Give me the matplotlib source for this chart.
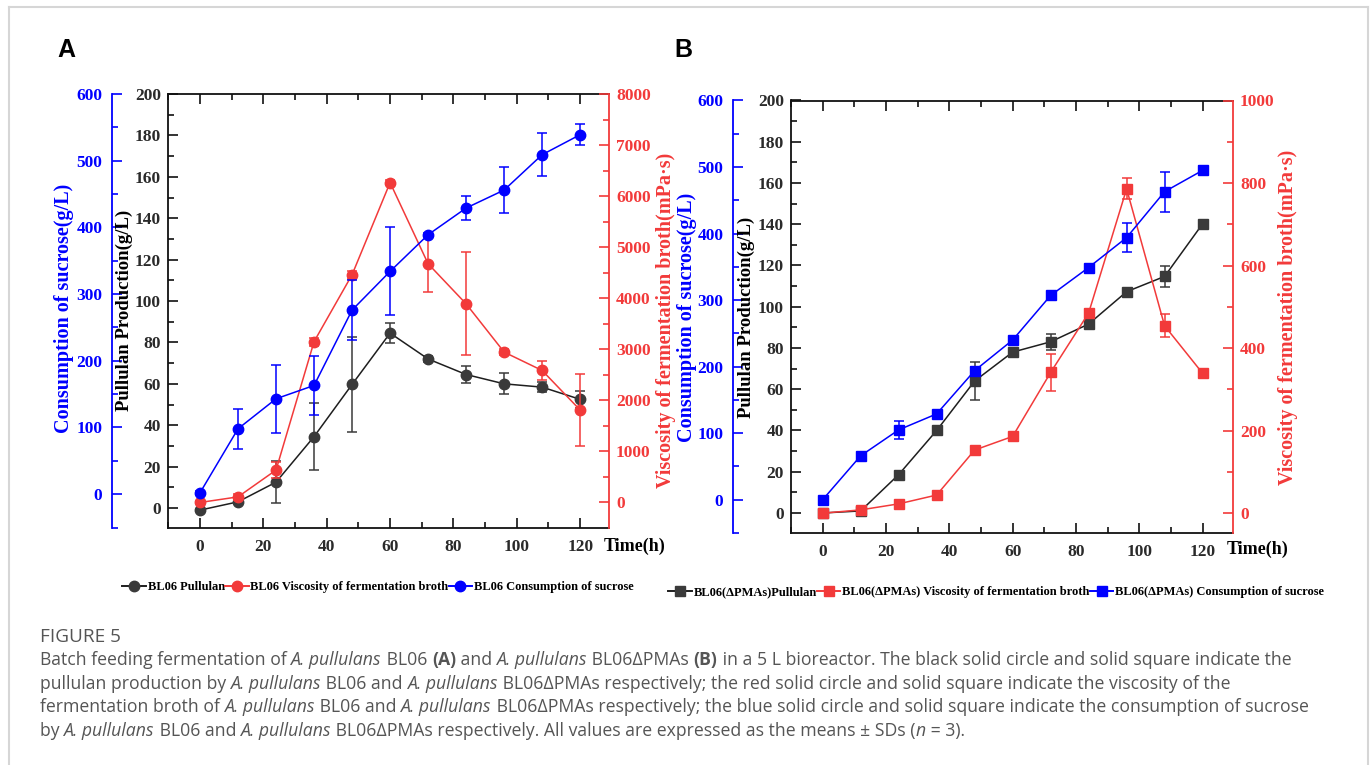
import matplotlib
matplotlib.use('Agg')
import matplotlib.pyplot as plt
from matplotlib.lines import Line2D
from matplotlib.ticker import MultipleLocator

W, H = 1372, 765

time_h = [0, 12, 24, 36, 48, 60, 72, 84, 96, 108, 120]

# panel A : BL06
a_pullulan = [-1, 3, 12.5, 34.5, 59.7, 84.5, 72, 64.5, 60, 58.4, 52.5]
a_pullulan_sd = [0.5, 1, 10, 16, 23, 5, 1.5, 4, 5, 2.4, 4]
a_visc = [0, 110, 635, 3150, 4460, 6265, 4675, 3890, 2945, 2585, 1810]
a_visc_sd = [30, 60, 150, 80, 80, 50, 555, 1010, 60, 190, 700]
a_sucrose = [2, 98, 143, 163, 276, 334, 389, 429, 456, 509, 539]
a_sucrose_sd = [3, 30, 51, 44, 45, 66, 3, 18, 34, 32, 16]

# panel B : BL06(ΔPMAs)
b_pullulan = [0, 1, 18.6, 40, 64, 78, 83, 91.6, 107.3, 114.7, 140.2]
b_pullulan_sd = [0.5, 0.5, 1.5, 1, 9, 1.5, 4, 1, 1, 5, 1]
b_visc = [0, 8, 22.6, 44, 153, 186, 341, 485, 786, 454, 339]
b_visc_sd = [2, 3, 3, 3, 5, 3, 44, 10, 25, 28, 5]
b_sucrose = [0, 66, 105, 129, 194, 240, 307, 349, 394, 463, 495]
b_sucrose_sd = [2, 3, 14, 3, 5, 3, 3, 3, 22, 30, 6]

legend_a = ['BL06 Pullulan', 'BL06 Viscosity of fermentation broth', 'BL06 Consumption of sucrose']
legend_b = ['BL06(ΔPMAs)Pullulan', 'BL06(ΔPMAs) Viscosity of fermentation broth',
            'BL06(ΔPMAs) Consumption of sucrose']

plt.rcParams['font.family'] = ['Liberation Serif', 'DejaVu Serif']
plt.rcParams['font.weight'] = 'bold'

DARK = '#3a3a3a'
RED = '#f23a3a'
BLUE = '#0000ff'
TXT = '#2a2a2a'

fig = plt.figure(figsize=(W / 100, H / 100), dpi=100)


def fx(x):
    return x / W


def fy(y):
    return 1 - y / H


def panel(box, xlim, pul_lim, visc_lim, suc_lim, blue_pos, visc_major, marker, ms,
          pul, pul_sd, visc, visc_sd, suc, suc_sd, names, leg_xy, lab_x, lab_y, time_xy):
    l, t, r, b = box
    ax = fig.add_axes([fx(l), fy(b), (r - l) / W, (b - t) / H])
    ax_r = ax.twinx()
    ax_b = ax.twinx()

    kw = dict(lw=1.1, capsize=3.5, elinewidth=1.1, capthick=1.1, ms=ms, marker=marker)
    ax.errorbar(time_h, pul, yerr=pul_sd, color='#1e1e1e', mfc=DARK, mec=DARK, ecolor=DARK, **kw)
    ax_r.errorbar(time_h, visc, yerr=visc_sd, color=RED, mfc=RED, mec=RED, ecolor=RED, **kw)
    ax_b.errorbar(time_h, suc, yerr=suc_sd, color=BLUE, mfc=BLUE, mec=BLUE, ecolor=BLUE, **kw)

    ax.set_xlim(*xlim)
    ax.set_ylim(*pul_lim)
    ax_r.set_ylim(*visc_lim)
    ax_b.set_ylim(*suc_lim)

    # main frame
    for s in ['left', 'top', 'bottom']:
        ax.spines[s].set_linewidth(1.3)
        ax.spines[s].set_color('#111111')
    ax.spines['right'].set_visible(False)
    ax.xaxis.set_major_locator(MultipleLocator(20))
    ax.xaxis.set_minor_locator(MultipleLocator(10))
    ax.yaxis.set_major_locator(MultipleLocator(20))
    ax.yaxis.set_minor_locator(MultipleLocator(10))
    ax.tick_params(which='both', direction='in', top=True, right=False, width=1.2,
                   labelsize=12.5, labelcolor=TXT, color='#111111')
    ax.tick_params(which='major', length=7)
    ax.tick_params(which='minor', length=4)
    ax.tick_params(axis='x', pad=8)
    ax.tick_params(axis='y', pad=5)

    # viscosity axis (right, red)
    for s in ['left', 'top', 'bottom']:
        ax_r.spines[s].set_visible(False)
    ax_r.spines['right'].set_color(RED)
    ax_r.spines['right'].set_linewidth(1.3)
    ax_r.yaxis.set_major_locator(MultipleLocator(visc_major))
    ax_r.yaxis.set_minor_locator(MultipleLocator(visc_major / 2))
    ax_r.tick_params(which='both', direction='in', color=RED, labelcolor=RED, width=1.2,
                     labelsize=12.5, pad=5)
    ax_r.tick_params(which='major', length=7)
    ax_r.tick_params(which='minor', length=4)

    # sucrose axis (offset left, blue)
    for s in ['right', 'top', 'bottom']:
        ax_b.spines[s].set_visible(False)
    ax_b.spines['left'].set_visible(True)
    ax_b.spines['left'].set_position(('axes', blue_pos))
    ax_b.spines['left'].set_color(BLUE)
    ax_b.spines['left'].set_linewidth(1.3)
    ax_b.yaxis.tick_left()
    ax_b.yaxis.set_major_locator(MultipleLocator(100))
    ax_b.yaxis.set_minor_locator(MultipleLocator(50))
    ax_b.tick_params(which='both', direction='in', color=BLUE, labelcolor=BLUE, width=1.2,
                     labelsize=12.5, pad=7)
    ax_b.tick_params(which='major', length=7)
    ax_b.tick_params(which='minor', length=4)

    # axis titles
    fig.text(fx(lab_x[0]), fy(lab_y[0]), 'Consumption of sucrose(g/L)', color=BLUE, rotation=90,
             ha='center', va='center', fontsize=14.5)
    fig.text(fx(lab_x[1]), fy(lab_y[1]), 'Pullulan Production(g/L)', color='black', rotation=90,
             ha='center', va='center', fontsize=13.5)
    fig.text(fx(lab_x[2]), fy(lab_y[2]), 'Viscosity of fermentation broth(mPa·s)', color=RED,
             rotation=90, ha='center', va='center', fontsize=14.5)
    fig.text(fx(time_xy[0]), fy(time_xy[1]), 'Time(h)', ha='left', va='center', fontsize=13)

    handles = [Line2D([0], [0], color='#1e1e1e', marker=marker, ms=ms, mfc=DARK, mec=DARK, lw=1.4),
               Line2D([0], [0], color=RED, marker=marker, ms=ms, mfc=RED, mec=RED, lw=1.4),
               Line2D([0], [0], color=BLUE, marker=marker, ms=ms, mfc=BLUE, mec=BLUE, lw=1.4)]
    fig.legend(handles, names, loc='center', bbox_to_anchor=(fx(leg_xy[0]), fy(leg_xy[1])),
               ncol=3, frameon=False, fontsize=9, handlelength=1.9, handletextpad=0.15,
               columnspacing=0.0, borderpad=0)
    return ax


panel((168, 94, 609, 527.5), (-10.1, 129.1), (-9.4, 200), (-490, 8000), (-50, 600), -0.127,
      1000, 'o', 7.5, a_pullulan, a_pullulan_sd, a_visc, a_visc_sd, a_sucrose, a_sucrose_sd,
      legend_a, (378, 587), (64, 124, 666), (308, 310, 320), (604, 546))

panel((791, 100.5, 1233, 533), (-10, 129.6), (-9.7, 200), (-48, 1000), (-50, 600), -0.131,
      200, 's', 6.5, b_pullulan, b_pullulan_sd, b_visc, b_visc_sd, b_sucrose, b_sucrose_sd,
      legend_b, (996, 592), (687, 746, 1288), (317, 317, 317), (1227, 549))

# panel letters
fig.text(fx(66), fy(50), 'A', family=['Liberation Sans', 'DejaVu Sans'], fontweight='bold',
         fontsize=18, ha='center', va='center')
fig.text(fx(683), fy(50), 'B', family=['Liberation Sans', 'DejaVu Sans'], fontweight='bold',
         fontsize=18, ha='center', va='center')

# outer light frame
for xs, ys in [([8.5, 8.5], [6.5, 765]), ([8.5, 1367.5], [6.5, 6.5]), ([1367.5, 1367.5], [6.5, 765])]:
    fig.add_artist(Line2D([fx(v) for v in xs], [fy(v) for v in ys], color='#d6d6d6', lw=1.5))

# caption
cap_family = ['Open Sans', 'DejaVu Sans']
cap_color = '#555555'
cap_lines = [
    [("Batch feeding fermentation of ", 'n'), ("A. pullulans", 'i'), (" BL06 ", 'n'), ("(A)", 'b'),
     (" and ", 'n'), ("A. pullulans", 'i'), (" BL06ΔPMAs ", 'n'), ("(B)", 'b'),
     (" in a 5 L bioreactor. The black solid circle and solid square indicate the", 'n')],
    [("pullulan production by ", 'n'), ("A. pullulans", 'i'), (" BL06 and ", 'n'), ("A. pullulans", 'i'),
     (" BL06ΔPMAs respectively; the red solid circle and solid square indicate the viscosity of the", 'n')],
    [("fermentation broth of ", 'n'), ("A. pullulans", 'i'), (" BL06 and ", 'n'), ("A. pullulans", 'i'),
     (" BL06ΔPMAs respectively; the blue solid circle and solid square indicate the consumption of sucrose", 'n')],
    [("by ", 'n'), ("A. pullulans", 'i'), (" BL06 and ", 'n'), ("A. pullulans", 'i'),
     (" BL06ΔPMAs respectively. All values are expressed as the means ± SDs (", 'n'), ("n", 'i'),
     (" = 3).", 'n')],
]
cap_baselines = [665, 689, 712, 736]

renderer = fig.canvas.get_renderer()


def style_kw(st, size):
    return dict(family=cap_family, fontsize=size, color=cap_color,
                fontstyle='italic' if st == 'i' else 'normal',
                fontweight='bold' if st == 'b' else 'normal')


def piece_w(s, st, size):
    t1 = fig.text(0, 0, '|' + s + '|', **style_kw(st, size))
    t2 = fig.text(0, 0, '||', **style_kw(st, size))
    w = t1.get_window_extent(renderer).width - t2.get_window_extent(renderer).width
    t1.remove()
    t2.remove()
    return w


base = 11
w1 = sum(piece_w(s, st, base) for s, st in cap_lines[0])
cap_size = base * 1253 / w1

for line, yb in zip(cap_lines, cap_baselines):
    x = 40
    for s, st in line:
        fig.text(fx(x), fy(yb), s, ha='left', va='baseline', **style_kw(st, cap_size))
        x += piece_w(s, st, cap_size)

fig.text(fx(40), fy(642), 'FIGURE 5', family=cap_family, fontsize=cap_size * 1.08,
         color=cap_color, fontweight='medium', ha='left', va='baseline')

fig.savefig('out.png', dpi=100)
